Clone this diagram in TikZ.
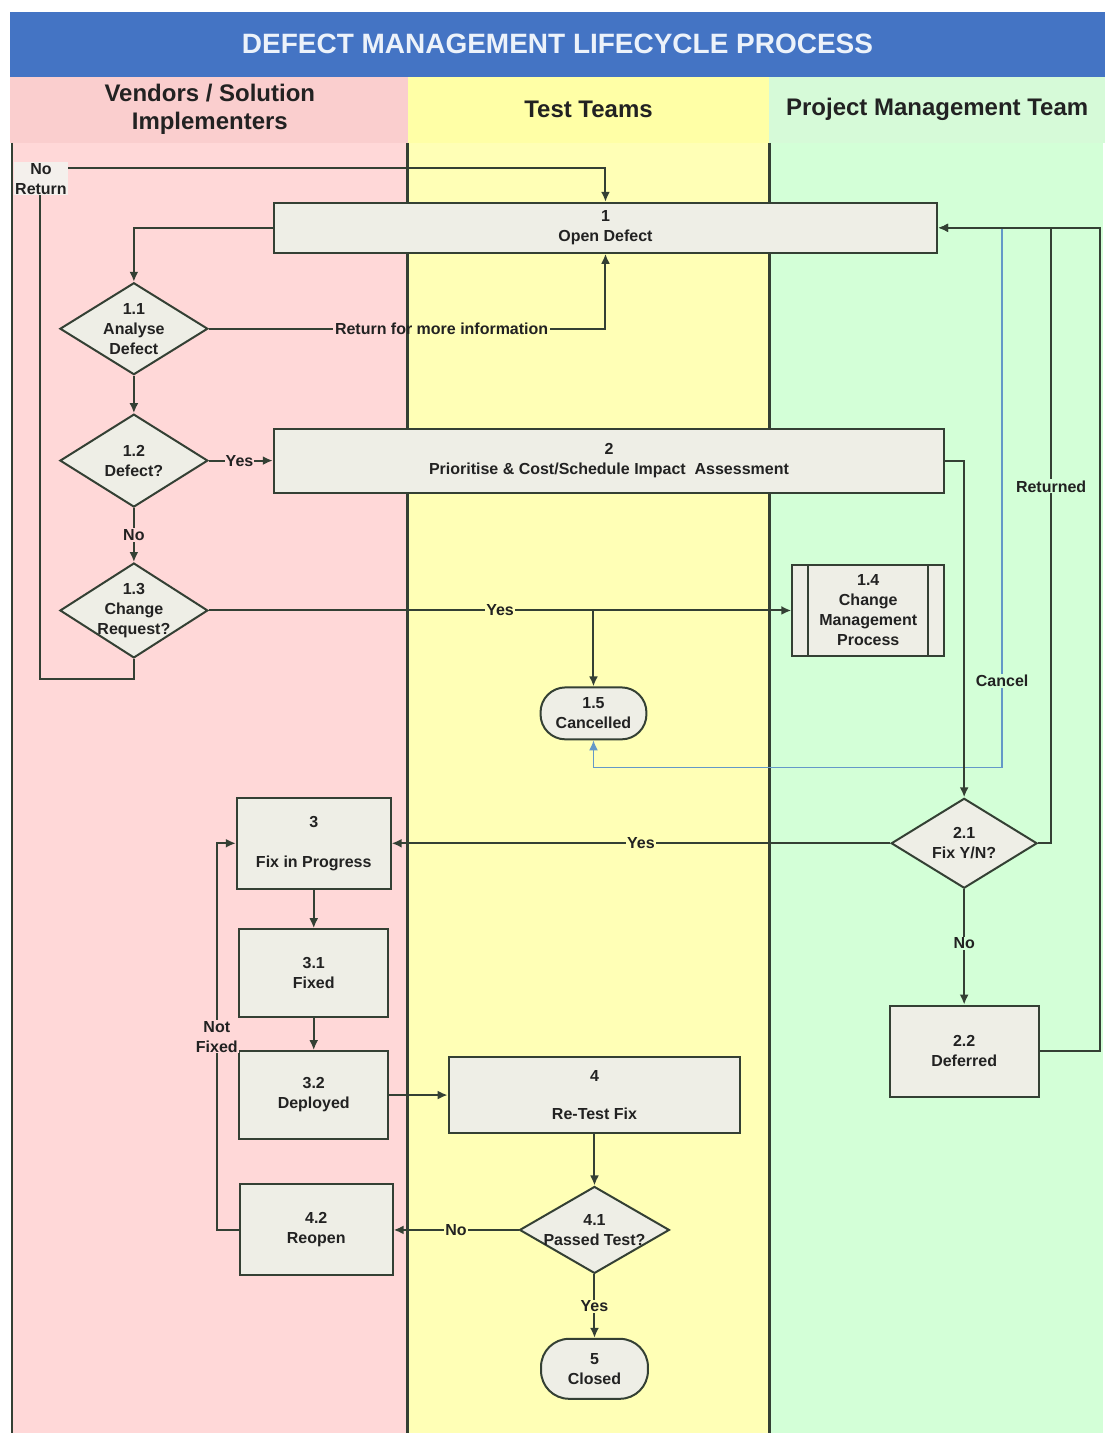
\documentclass[tikz,border=0pt]{standalone}
\usepackage{fontspec}
\setmainfont{Liberation Sans}
\usetikzlibrary{shapes.geometric,arrows.meta}

\definecolor{titleblue}{RGB}{68,116,196}
\definecolor{titletext}{RGB}{236,242,250}
\definecolor{hdrpink}{RGB}{250,206,206}
\definecolor{hdryellow}{RGB}{255,255,166}
\definecolor{hdrgreen}{RGB}{214,250,216}
\definecolor{lanepink}{RGB}{255,216,216}
\definecolor{laneyellow}{RGB}{255,255,182}
\definecolor{lanegreen}{RGB}{211,255,215}
\definecolor{boxfill}{RGB}{238,238,230}
\definecolor{nrfill}{RGB}{244,240,236}
\definecolor{ink}{RGB}{52,64,52}
\definecolor{txt}{RGB}{34,34,34}
\definecolor{cancelblue}{RGB}{100,152,200}

\begin{document}
\begin{tikzpicture}[x=1pt,y=-1pt,color=ink,line width=2pt,
  every node/.style={font=\bfseries\fontsize{16}{20}\selectfont,align=center,text=txt},
  hdr/.style={font=\bfseries\fontsize{24}{28}\selectfont},
  box/.style={draw=ink,fill=boxfill,line width=2pt,inner sep=0pt},
  decision/.style={diamond,draw=ink,fill=boxfill,line width=2pt,inner sep=0pt},
  term/.style={box,rounded corners=25pt},
  flow/.style={-{Latex[length=10pt,width=9pt]}},
  lbl/.style={inner sep=1pt}]

% lanes
\fill[white] (0,0) rectangle (1106,1434);
\fill[titleblue] (10,12) rectangle (1106,77);
\fill[hdrpink] (10,77) rectangle (408,143);
\fill[hdryellow] (408,77) rectangle (770,143);
\fill[hdrgreen] (770,77) rectangle (1106,143);
\fill[lanepink] (12,143) rectangle (408,1434);
\fill[laneyellow] (408,143) rectangle (770,1434);
\fill[lanegreen] (770,143) rectangle (1104,1434);
\foreach \x in {12,408,770}
\draw[line width=2.5pt] (\x,143) -- (\x,1434);

\node[font=\bfseries\fontsize{28}{32}\selectfont,text=titletext] (title) at (558,44)
	{DEFECT MANAGEMENT LIFECYCLE PROCESS};
\node[hdr] (vendors) at (210,109) {Vendors / Solution\\Implementers};
\node[hdr] (testers) at (589,109) {Test Teams};
\node[hdr] (pmt) at (938,109) {Project Management Team};

% steps
\node[box,minimum width=664,minimum height=50] (open) at (606,228) {1\\Open Defect};
\node[decision,minimum width=148,minimum height=92,label={center:{1.1\\Analyse\\Defect}}] (analyse) at (134,329) {};
\node[decision,minimum width=148,minimum height=93,label={center:{1.2\\Defect?}}] (defect) at (134,461) {};
\node[box,minimum width=671,minimum height=64] (prio) at (609.5,461)
	{2\\Prioritise \& Cost/Schedule Impact\ \ Assessment};
\node[decision,minimum width=148,minimum height=95,label={center:{1.3\\Change\\Request?}}] (change) at (134,611) {};
\node[box,minimum width=152,minimum height=91] (cmp) at (869,611) {1.4\\Change\\Management\\Process};
\draw ([xshift=17]cmp.north west) -- ([xshift=17]cmp.south west);
\draw ([xshift=-17]cmp.north east) -- ([xshift=-17]cmp.south east);
\node[term,minimum width=106,minimum height=52] (cancelled) at (594,714) {1.5\\Cancelled};
\node[decision,minimum width=146,minimum height=90,label={center:{2.1\\Fix Y/N?}}] (fix) at (965,844) {};
\node[box,minimum width=149,minimum height=91] (deferred) at (965,1052) {2.2\\Deferred};
\node[box,minimum width=154,minimum height=91] (progress) at (314,844) {3\\[20pt]Fix in Progress};
\node[box,minimum width=149,minimum height=88] (fixed) at (314,974) {3.1\\Fixed};
\node[box,minimum width=149,minimum height=88] (deployed) at (314,1096) {3.2\\Deployed};
\node[box,minimum width=292,minimum height=76] (retest) at (595,1096) {4\\[18pt]Re-Test Fix};
\node[decision,minimum width=150,minimum height=87,label={center:{4.1\\Passed Test?}}] (passed) at (595,1231) {};
\node[box,minimum width=153,minimum height=91] (reopen) at (316.5,1231) {4.2\\Reopen};
\node[term,minimum width=107,minimum height=60,rounded corners=28pt] (closed) at (595,1370) {5\\Closed};

% cancel path
\coordinate (cancelfrom) at (1003,228);
\draw[flow,cancelblue,line width=1.5pt] (cancelfrom)
	-- node[lbl,fill=lanegreen,pos=0.84]{Cancel} ++(0,540) -| (cancelled.south);

% connectors
\coordinate (nrbot) at (40,680);
\coordinate (nrtop) at (40,168);
\draw[flow] (change.south) |- (nrbot) -- (nrtop) -| (open.north);
\node[lbl,fill=nrfill] (noreturn) at (41,179) {No\\Return};
\draw[flow] (open.west) -| (analyse.north);
\node[lbl] (moreinfo) at (442,329) {Return for more information};
\draw (analyse.east) -- (moreinfo.west);
\draw[flow] (moreinfo.east) -| (open.south);
\draw[flow] (analyse) -- (defect);
\draw[flow] (defect.east) -- node[lbl,fill=lanepink,pos=0.48]{Yes} (prio.west);
\draw[flow] (defect) -- node[lbl,fill=lanepink]{No} (change);
\draw[flow] (change.east) -- node[lbl,fill=laneyellow]{Yes} (cmp.west);
\draw[flow] (change.east -| cancelled.north) -- (cancelled.north);
\draw[flow] (prio.east) -| (fix.north);
\draw[flow] (fix.east) -- ++(13,0) |- node[lbl,fill=lanegreen,pos=0.29]{Returned} (open.east);
\draw[flow] (deferred.east) -- ++(60,0) |- (open.east);
\draw[flow] (fix.west) -- node[lbl,fill=laneyellow]{Yes} (progress.east);
\draw[flow] (fix) -- node[lbl,fill=lanegreen,pos=0.47]{No} (deferred);
\draw[flow] (progress) -- (fixed);
\draw[flow] (fixed) -- (deployed);
\draw[flow] (deployed) -- (retest);
\draw[flow] (retest) -- (passed);
\draw[flow] (passed) -- node[lbl,fill=laneyellow]{No} (reopen);
\draw[flow] (reopen.west) -- ++(-22,0) |- node[lbl,fill=lanepink,pos=0.25]{Not\\Fixed} (progress.west);
\draw[flow] (passed) -- node[lbl,fill=laneyellow]{Yes} (closed);
\end{tikzpicture}
\end{document}
